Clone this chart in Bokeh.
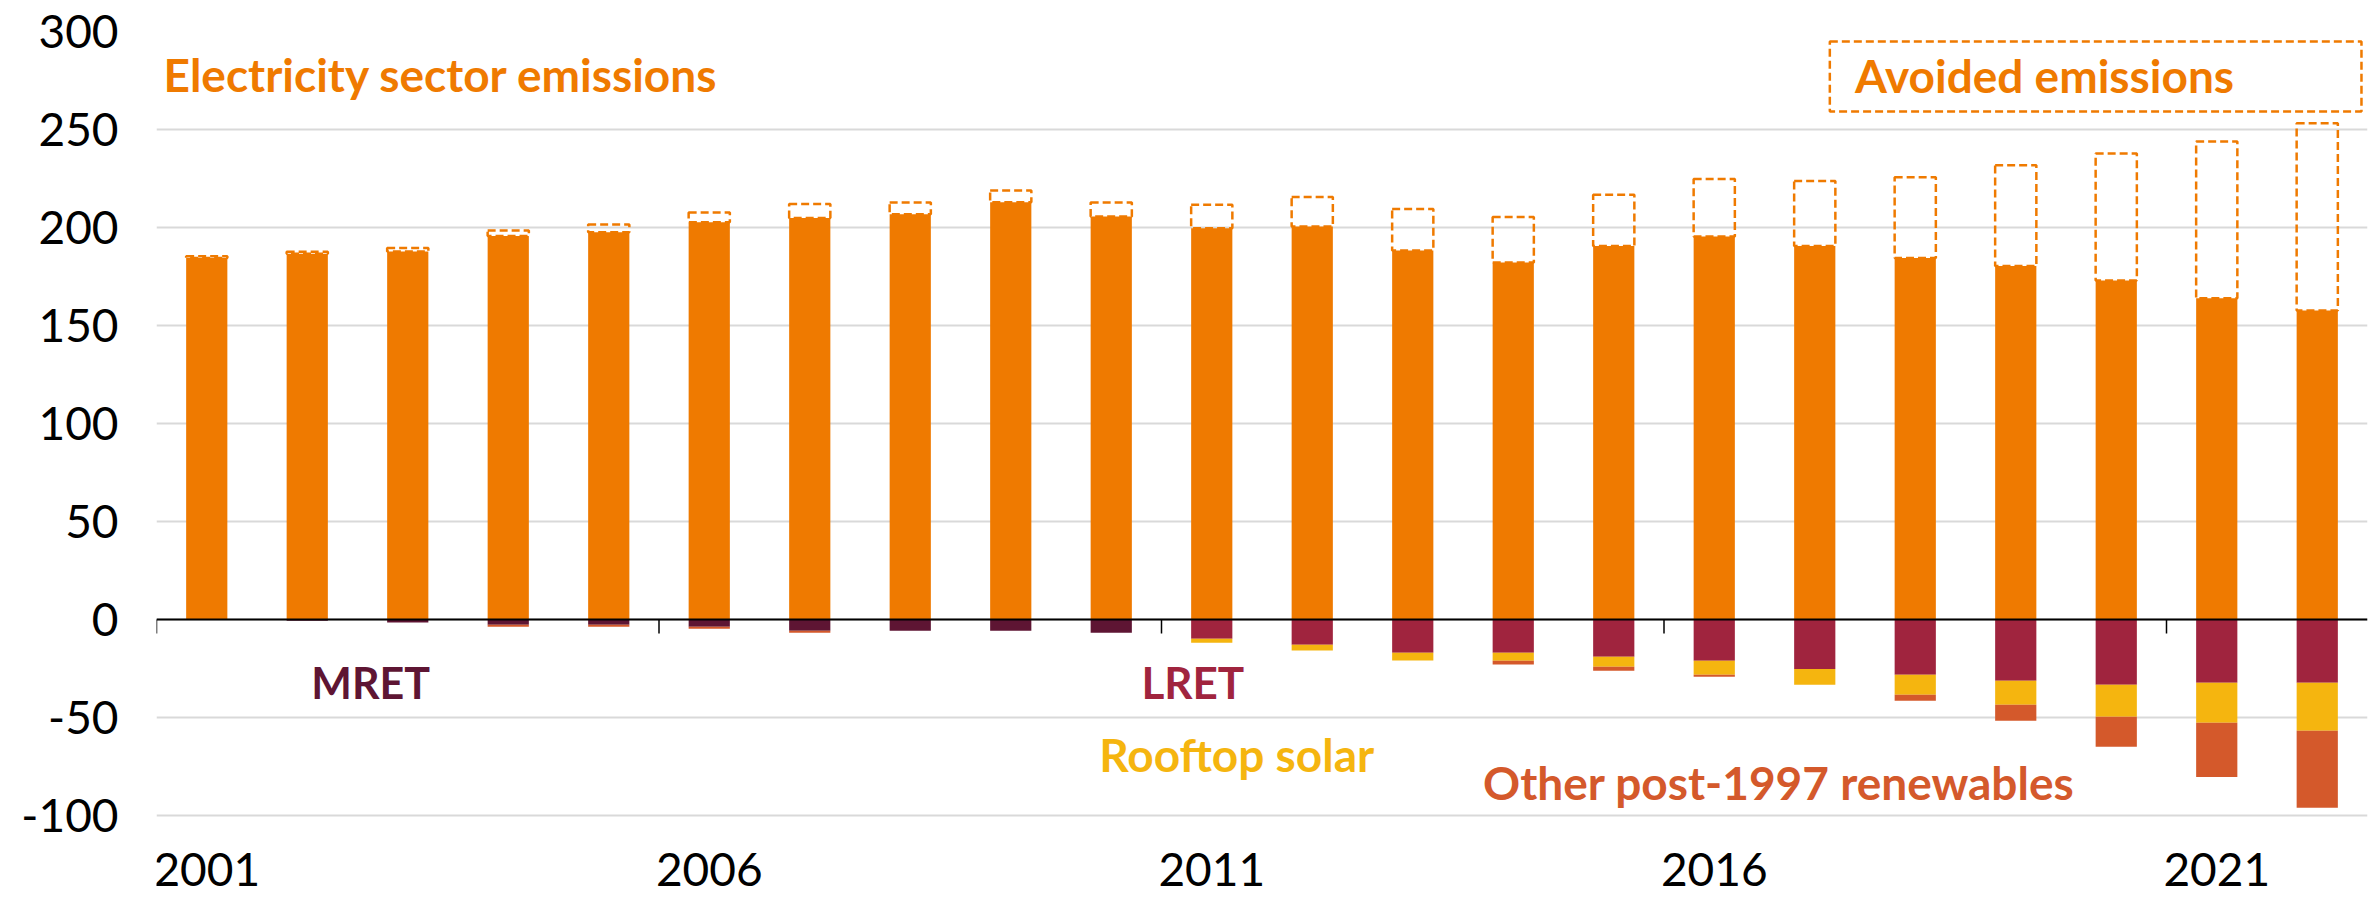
import math
from bokeh.plotting import figure
from bokeh.models import Range1d, FixedTicker, Span, Label, ColumnDataSource
from bokeh.core.properties import value
from bokeh.embed import file_html
from bokeh.resources import INLINE

# ---------------- data ----------------
years = [2001, 2002, 2003, 2004, 2005, 2006, 2007, 2008, 2009, 2010, 2011,
         2012, 2013, 2014, 2015, 2016, 2017, 2018, 2019, 2020, 2021, 2022]
electricity = [184.5, 186.6, 187.8, 195.7, 197.6, 202.7, 204.8, 206.8, 212.9, 205.6, 199.6,
               200.5, 188.3, 182.1, 190.5, 195.4, 190.5, 184.4, 180.3, 173.0, 163.9, 157.6]
avoided = [0.8, 1.0, 1.7, 2.8, 3.9, 5.0, 7.2, 6.0, 6.0, 7.2, 12.0,
           15.0, 21.2, 23.3, 26.2, 29.3, 33.2, 41.3, 51.5, 64.8, 80.0, 95.6]
mret = [0.3, 0.6, 1.5, 2.7, 2.7, 3.7, 5.8, 5.8, 5.8, 6.8, 0.0,
        0.0, 0.0, 0.0, 0.0, 0.0, 0.0, 0.0, 0.0, 0.0, 0.0, 0.0]
lret = [0.0, 0.0, 0.0, 0.0, 0.0, 0.0, 0.0, 0.0, 0.0, 0.0, 9.8,
        12.9, 17.0, 17.0, 19.0, 21.1, 25.2, 28.2, 31.3, 33.3, 32.3, 32.3]
rooftop = [0.0, 0.0, 0.0, 0.0, 0.0, 0.0, 0.0, 0.0, 0.0, 0.0, 2.0,
           2.9, 3.9, 4.1, 5.1, 7.1, 8.1, 10.2, 12.2, 16.3, 20.4, 24.5]
other = [0.0, 0.0, 0.0, 1.0, 1.0, 1.0, 1.0, 0.0, 0.0, 0.0, 0.0,
         0.0, 0.0, 1.8, 2.1, 1.0, 0.0, 3.1, 8.2, 15.3, 27.6, 39.3]

x_tick_years = [2001, 2006, 2011, 2016, 2021]
x_tick_labels = ["2001", "2006", "2011", "2016", "2021"]
y_ticks = [-100, -50, 0, 50, 100, 150, 200, 250, 300]
y_tick_labels = ["-100", "-50", "0", "50", "100", "150", "200", "250", "300"]

series_labels = ["Electricity sector emissions", "Avoided emissions", "MRET", "LRET",
                 "Rooftop solar", "Other post-1997 renewables"]

# ---------------- colours ----------------
C_ELEC = "#EF7A00"
C_MRET = "#5E1533"
C_LRET = "#A0243E"
C_SOLAR = "#F5B50F"
C_OTHER = "#D4592B"

# ---------------- stacking ----------------
avoid_top = [e + a for e, a in zip(electricity, avoided)]
base = [m + l for m, l in zip(mret, lret)]
solar_bot = [b + r for b, r in zip(base, rooftop)]
other_bot = [s + o for s, o in zip(solar_bot, other)]

src = ColumnDataSource(dict(
    x=years,
    zero=[0.0] * len(years),
    elec_top=electricity,
    avoid_top=avoid_top,
    mret_bot=[-v for v in mret],
    lret_bot=[-v for v in lret],
    base_neg=[-v for v in base],
    solar_neg=[-v for v in solar_bot],
    other_neg=[-v for v in other_bot],
))

# ---------------- figure ----------------
W, H = 2379, 898
BL, BR, BT = 156, 12, 31
px_per_unit = 784 / 400.0
y_start = 300 - (H - BT) / px_per_unit

p = figure(width=W, height=H, output_backend="svg", toolbar_location=None,
           x_range=Range1d(years[0] - 0.5, years[-1] + 0.5),
           y_range=Range1d(y_start, 300),
           min_border_left=BL, min_border_right=BR, min_border_top=BT, min_border_bottom=0)
p.outline_line_color = None
p.background_fill_color = "white"
p.border_fill_color = "white"

p.xaxis.visible = False
p.xgrid.grid_line_color = None

p.yaxis.ticker = FixedTicker(ticks=y_ticks)
p.yaxis.major_label_overrides = {t: s for t, s in zip(y_ticks, y_tick_labels)}
p.yaxis.axis_line_color = None
p.yaxis.major_tick_line_color = None
p.yaxis.minor_tick_line_color = None
p.yaxis.major_tick_out = 0
p.yaxis.major_tick_in = 0
p.yaxis.major_label_standoff = 38
p.yaxis.major_label_text_font = "Lato"
p.yaxis.major_label_text_font_size = "46px"
p.yaxis.major_label_text_color = "#000000"

p.ygrid.ticker = FixedTicker(ticks=y_ticks)
p.ygrid.grid_line_color = "#D9D9D9"
p.ygrid.grid_line_width = 2

BW = 0.41
p.vbar(x="x", width=BW, bottom="zero", top="elec_top", source=src,
       fill_color=C_ELEC, line_color=None)
p.vbar(x="x", width=BW, bottom="elec_top", top="avoid_top", source=src,
       fill_color=None, line_color=C_ELEC, line_width=2.5, line_dash="8 4")
p.vbar(x="x", width=BW, bottom="mret_bot", top="zero", source=src,
       fill_color=C_MRET, line_color=None)
p.vbar(x="x", width=BW, bottom="lret_bot", top="zero", source=src,
       fill_color=C_LRET, line_color=None)
p.vbar(x="x", width=BW, bottom="solar_neg", top="base_neg", source=src,
       fill_color=C_SOLAR, line_color=None)
p.vbar(x="x", width=BW, bottom="other_neg", top="solar_neg", source=src,
       fill_color=C_OTHER, line_color=None)

# zero axis line with category-boundary ticks every 5 years
p.add_layout(Span(location=0, dimension="width", line_color="black", line_width=2))
tick_x = [years[i] - 0.5 for i in range(0, len(years), 5)]
p.ray(x=tick_x, y=[0] * len(tick_x), length=14, length_units="screen",
      angle=-math.pi / 2, line_color="black", line_width=1.5)

# year labels along the bottom
lab_src = ColumnDataSource(dict(x=x_tick_years, y=[-127.8] * len(x_tick_years),
                                t=x_tick_labels))
p.text(x="x", y="y", text="t", source=lab_src, text_font=value("Lato"),
       text_font_size="46px", text_color="#000000", text_align="center",
       text_baseline="middle")

# avoided emissions legend box
p.quad(left=2017.15, right=2022.44, bottom=259.2, top=294.9, fill_color=None,
       line_color=C_ELEC, line_width=2.5, line_dash="8 4")

def note(text, x, y, color, size):
    p.add_layout(Label(x=x, y=y, text=text, text_font="Lato", text_font_style="bold",
                       text_font_size=size, text_color=color, text_align="left",
                       text_baseline="middle"))

note(series_labels[0], 2000.57, 278.1, C_ELEC, "46px")
note(series_labels[1], 2017.4, 277.6, C_ELEC, "46px")
note(series_labels[2], 2002.04, -32.0, C_MRET, "43px")
note(series_labels[3], 2010.3, -32.0, C_LRET, "44px")
note(series_labels[4], 2009.88, -69.0, C_SOLAR, "46px")
note(series_labels[5], 2013.7, -83.0, C_OTHER, "46px")

open("out.html", "w").write(file_html(p, INLINE))
